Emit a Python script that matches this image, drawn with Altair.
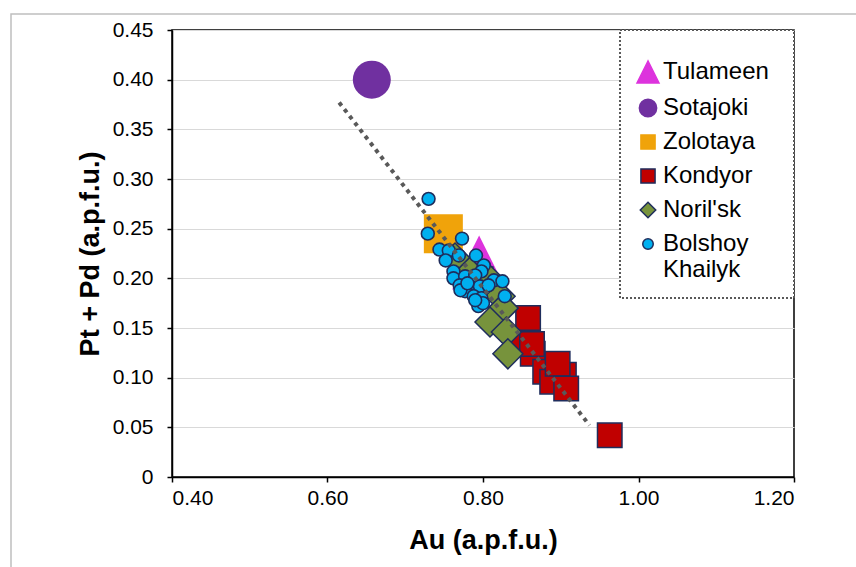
import altair as alt
import pandas as pd

# ---------------- data ----------------
series_names = ["Tulameen", "Sotajoki", "Zolotaya", "Kondyor", "Noril'sk", "Bolshoy Khailyk"]

tulameen_au = [0.795]
tulameen_ptpd = [0.216]

sotajoki_au = [0.657]
sotajoki_ptpd = [0.400]

zolotaya_au = [0.749]
zolotaya_ptpd = [0.245]

kondyor_au = [0.851, 0.864, 0.880, 0.904, 0.889, 0.797, 0.858, 0.863, 0.896, 0.907, 0.963]
kondyor_ptpd = [0.140, 0.124, 0.106, 0.103, 0.096, 0.199, 0.160, 0.134, 0.114, 0.089, 0.042]

norilsk_au = [0.764, 0.783, 0.809, 0.822, 0.826, 0.809, 0.830, 0.832]
norilsk_ptpd = [0.2205, 0.206, 0.198, 0.182, 0.170, 0.156, 0.146, 0.124]

bolshoy_au = [0.730, 0.729, 0.773, 0.744, 0.756, 0.752, 0.769, 0.791, 0.762, 0.801,
              0.798, 0.779, 0.775, 0.788, 0.814, 0.825, 0.762, 0.777, 0.790, 0.770,
              0.777, 0.796, 0.788, 0.798, 0.828, 0.794, 0.800, 0.807, 0.771,
              0.790, 0.780]
bolshoy_ptpd = [0.280, 0.245, 0.240, 0.229, 0.228, 0.218, 0.223, 0.223, 0.207, 0.213,
                0.207, 0.200, 0.195, 0.195, 0.198, 0.197, 0.200, 0.202, 0.203, 0.193,
                0.187, 0.192, 0.182, 0.180, 0.182, 0.172, 0.175, 0.193, 0.188,
                0.178, 0.195]

trend_au = [0.615, 0.937]
trend_ptpd = [0.377, 0.052]

x_ticks = [0.40, 0.60, 0.80, 1.00, 1.20]
y_ticks = [0, 0.05, 0.10, 0.15, 0.20, 0.25, 0.30, 0.35, 0.40, 0.45]

# ---------------- styles ----------------
FONT = "Liberation Sans"
NAVY = "#1F2D5C"
TRI = "M0,-1L-1,1L1,1Z"
fills = ["#DD33DD", "#7030A0", "#F0A30A", "#C00000", "#77933C", "#00B0F0"]
strokes = ["#DD33DD", "#7030A0", "#F0A30A", NAVY, NAVY, NAVY]
shapes = [TRI, "circle", "square", "square", "diamond", "circle"]
legend_sizes = [484, 300, 200, 200, 240, 110]

frames = []
for name, xs, ys in [
    ("Tulameen", tulameen_au, tulameen_ptpd),
    ("Sotajoki", sotajoki_au, sotajoki_ptpd),
    ("Zolotaya", zolotaya_au, zolotaya_ptpd),
    ("Kondyor", kondyor_au, kondyor_ptpd),
    ("Noril'sk", norilsk_au, norilsk_ptpd),
    ("Bolshoy Khailyk", bolshoy_au, bolshoy_ptpd),
]:
    frames.append(pd.DataFrame({"series": name, "au": xs, "ptpd": ys}))
df = pd.concat(frames, ignore_index=True)
trend_df = pd.DataFrame({"au": trend_au, "ptpd": trend_ptpd})

xscale = alt.Scale(domain=[0.4, 1.2], nice=False, zero=False)
yscale = alt.Scale(domain=[0, 0.45], nice=False)

xaxis = alt.Axis(values=x_ticks, format=".2f", grid=False, title="Au (a.p.f.u.)",
                 titleX=311, titleY=63, titleBaseline="middle", titleAlign="center",
                 labelPadding=5)
yaxis = alt.Axis(values=y_ticks,
                 labelExpr="datum.value == 0 ? '0' : format(datum.value, '.2f')",
                 grid=True, gridColor="#D9D9D9", gridWidth=1,
                 title="Pt + Pd (a.p.f.u.)", titleAngle=270, titleX=-82, titleY=223.5,
                 titleBaseline="middle", titleAlign="center", labelPadding=14)

X = alt.X("au:Q", scale=xscale, axis=xaxis)
Y = alt.Y("ptpd:Q", scale=yscale, axis=yaxis)

# blank title (non-breaking spaces between zero-width marks) only widens the legend box
legend_obj = alt.Legend(
    title="\u200b" + "\u00a0" * 51 + "\u200b", orient="top-right", offset=0,
    labelExpr="datum.label == 'Bolshoy Khailyk' ? ['Bolshoy', 'Khailyk'] : datum.label",
)

# outer light-grey frame (decoration)
frame = alt.Chart(alt.Data(values=[{}])).mark_rect(
    filled=False, stroke="#BFBFBF", strokeWidth=1.5
).encode(x=alt.value(-161), x2=alt.value(900), y=alt.value(-16), y2=alt.value(700))

# layer that only provides the legend (drawn underneath, smaller than the real markers)
legend_layer = alt.Chart(df).mark_point(filled=True, opacity=1, strokeWidth=1.5).encode(
    x=X, y=Y,
    fill=alt.Fill("series:N", scale=alt.Scale(domain=series_names, range=fills), legend=legend_obj),
    stroke=alt.Stroke("series:N", scale=alt.Scale(domain=series_names, range=strokes), legend=legend_obj),
    shape=alt.Shape("series:N", scale=alt.Scale(domain=series_names, range=shapes), legend=legend_obj),
    size=alt.Size("series:N", scale=alt.Scale(type="ordinal", domain=series_names, range=legend_sizes),
                  legend=legend_obj),
)

def series_layer(name, shape, size, fill, stroke, sw):
    return alt.Chart(df[df["series"] == name]).mark_point(
        filled=True, shape=shape, size=size, fill=fill, stroke=stroke,
        strokeWidth=sw, opacity=1
    ).encode(x=X, y=Y)

layers = [
    frame,
    legend_layer,
    series_layer("Tulameen", TRI, 2916, "#DD33DD", "#DD33DD", 0),
    series_layer("Sotajoki", "circle", 1444, "#7030A0", "#7030A0", 0),
    series_layer("Zolotaya", "square", 1521, "#F0A30A", "#F0A30A", 0),
    series_layer("Kondyor", "square", 600, "#C00000", NAVY, 1.5),
    series_layer("Noril'sk", "diamond", 900, "#77933C", NAVY, 1.5),
    series_layer("Bolshoy Khailyk", "circle", 165, "#00B0F0", NAVY, 1.6),
    alt.Chart(trend_df).mark_line(color="#595959", strokeWidth=4, strokeDash=[4, 4.5],
                                  strokeCap="butt").encode(x=X, y=Y),
]

chart = alt.layer(*layers).properties(
    width=622, height=447,
    autosize=alt.AutoSizeParams(type="none"),
    padding={"left": 172, "top": 30, "right": 62, "bottom": 90},
    background="white",
).configure_view(
    stroke="black", strokeWidth=1.5
).configure_axis(
    labelFont=FONT, labelFontSize=21, labelColor="black",
    titleFont=FONT, titleFontSize=27, titleFontWeight="bold", titleColor="black",
    domainColor="black", domainWidth=1.5, tickColor="black", tickSize=5, tickWidth=1.5,
).configure_legend(
    padding=16, fillColor="white", strokeColor="#595959", strokeDash=[2, 2], strokeWidth=2,
    labelFont=FONT, labelFontSize=24, labelColor="black", labelOffset=3, labelLimit=300,
    rowPadding=10, symbolStrokeWidth=1.5, titleFontSize=10, titlePadding=4,
)

chart.save("out.html", embed_options={"renderer": "svg", "actions": False})
